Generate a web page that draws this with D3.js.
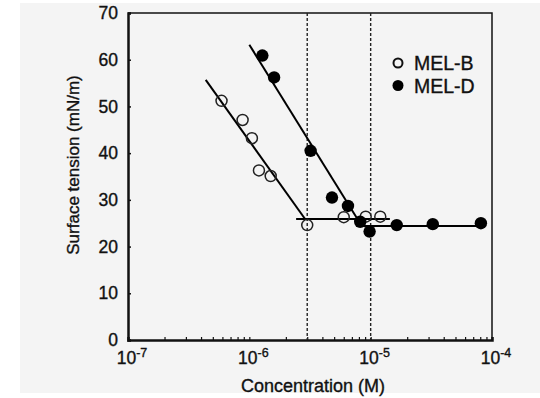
<!DOCTYPE html>
<html>
<head>
<meta charset="utf-8">
<script src="https://cdn.jsdelivr.net/npm/d3@7"></script>
<style>
  body { margin: 0; background: #fff; }
  svg { display: block; font-family: "Liberation Sans", Arial, sans-serif; }
  text { stroke: #111; stroke-width: 0.35px; }
</style>
</head>
<body>
<svg id="graph1"></svg>
<script>
// MEL-B (open circles)
var melBConc = [5.9e-7, 8.8e-7, 1.05e-6, 1.2e-6, 1.5e-6, 3.0e-6, 6.0e-6, 9.1e-6, 1.2e-5]
var melBST = [51.2, 47.1, 43.2, 36.3, 35.1, 24.6, 26.3, 26.4, 26.4]
// MEL-D (filled circles)
var melDConc = [1.28e-6, 1.6e-6, 3.2e-6, 4.8e-6, 6.5e-6, 8.2e-6, 9.8e-6, 1.64e-5, 3.25e-5, 8.1e-5]
var melDST = [60.9, 56.2, 40.5, 30.5, 28.7, 25.3, 23.2, 24.6, 24.8, 25.0]
// fitted lines [conc, tension]
var melBSlope = [[4.37e-7, 55.7], [2.9e-6, 25.8]]
var melBFlat = [[2.43e-6, 25.9], [1.44e-5, 25.9]]
var melDSlope = [[1.0e-6, 63.2], [8.45e-6, 24.4]]
var melDFlat = [[8.3e-6, 24.4], [8.2e-5, 24.4]]
// CMC markers
var cmcLines = [3e-6, 1e-5]
var yTicks = [0, 10, 20, 30, 40, 50, 60, 70]
var xDecades = [-7, -6, -5, -4]
var seriesNames = ["MEL-B", "MEL-D"]

var screen = {width: 540, height: 398}
var margins = {top: 13, bottom: 58, left: 128, right: 48}

var svg = d3.select("#graph1")
    .attr("width", screen.width)
    .attr("height", screen.height)

svg.append("rect")
    .attr("x", 20).attr("y", 3)
    .attr("width", 520).attr("height", 390)
    .attr("fill", "#f4f4f4")

var xScale = d3.scaleLog()
    .domain([1e-7, 1e-4])
    .range([margins.left, screen.width - margins.right])

var yScale = d3.scaleLinear()
    .domain([0, 70])
    .range([screen.height - margins.bottom, margins.top])

// frame top/right
svg.append("path")
    .attr("d", "M" + xScale(1e-7) + "," + yScale(70) + "H" + xScale(1e-4) + "V" + yScale(0))
    .attr("fill", "none")
    .attr("stroke", "#111")
    .attr("stroke-width", 1.5)

// minor ticks on x
var minor = []
for (var e = -7; e < -4; e++) {
    for (var k = 1; k <= 9; k++) minor.push(k * Math.pow(10, e))
}
minor.push(1e-4)

var xAxis = d3.axisBottom(xScale)
    .tickValues(minor)
    .tickSize(-3)
    .tickFormat("")

svg.append("g")
    .attr("transform", "translate(0," + yScale(0) + ")")
    .call(xAxis)
    .call(function(g) {
        g.select(".domain").attr("stroke", "#111").attr("stroke-width", 2.5)
        g.selectAll(".tick line").attr("stroke", "#111").attr("stroke-width", 1.2)
    })

var yAxis = d3.axisLeft(yScale)
    .tickValues(yTicks)
    .tickSize(-3)
    .tickPadding(10)

svg.append("g")
    .attr("transform", "translate(" + xScale(1e-7) + ",0)")
    .call(yAxis)
    .call(function(g) {
        g.select(".domain").attr("stroke", "#111").attr("stroke-width", 2.5)
        g.selectAll(".tick line").attr("stroke", "#111").attr("stroke-width", 1.5)
        g.selectAll(".tick text")
            .attr("font-size", 17.5)
            .attr("font-family", "Liberation Sans, Arial, sans-serif")
            .attr("fill", "#111")
    })

// x labels 10^n
var xl = svg.append("g").selectAll("text")
    .data(xDecades)
    .enter()
    .append("text")
    .attr("x", function(d) { return xScale(Math.pow(10, d)) + 4 })
    .attr("y", 364)
    .attr("text-anchor", "middle")
    .attr("font-size", 17.5)
    .attr("fill", "#111")
xl.append("tspan").text("10")
xl.append("tspan")
    .attr("dy", -7)
    .attr("font-size", 12.5)
    .text(function(d) { return d })

svg.append("text")
    .attr("x", 313)
    .attr("y", 392)
    .attr("text-anchor", "middle")
    .attr("font-size", 18)
    .attr("fill", "#111")
    .text("Concentration (M)")

svg.append("text")
    .attr("transform", "translate(79,165) rotate(-90)")
    .attr("text-anchor", "middle")
    .attr("font-size", 17)
    .attr("fill", "#111")
    .text("Surface tension (mN/m)")

// CMC dashed lines
svg.selectAll(".cmc")
    .data(cmcLines)
    .enter()
    .append("line")
    .attr("x1", function(d) { return xScale(d) })
    .attr("x2", function(d) { return xScale(d) })
    .attr("y1", yScale(70))
    .attr("y2", yScale(0))
    .attr("stroke", "#222")
    .attr("stroke-width", 1.4)
    .attr("stroke-dasharray", "3,2")

var line = d3.line()
    .x(function(d) { return xScale(d[0]) })
    .y(function(d) { return yScale(d[1]) })

svg.selectAll(".fit")
    .data([melBSlope, melBFlat, melDSlope, melDFlat])
    .enter()
    .append("path")
    .attr("d", line)
    .attr("fill", "none")
    .attr("stroke", "#000")
    .attr("stroke-width", 2)

svg.append("g").selectAll("circle")
    .data(melBConc)
    .enter()
    .append("circle")
    .attr("cx", function(d) { return xScale(d) })
    .attr("cy", function(d, i) { return yScale(melBST[i]) })
    .attr("r", 5.5)
    .attr("fill", "none")
    .attr("stroke", "#222")
    .attr("stroke-width", 1.5)

svg.append("g").selectAll("circle")
    .data(melDConc)
    .enter()
    .append("circle")
    .attr("cx", function(d) { return xScale(d) })
    .attr("cy", function(d, i) { return yScale(melDST[i]) })
    .attr("r", 6.2)
    .attr("fill", "#000")

// legend
var leg = svg.append("g")
leg.selectAll("circle")
    .data(seriesNames)
    .enter()
    .append("circle")
    .attr("cx", 398)
    .attr("cy", function(d, i) { return 63 + i * 22.5 })
    .attr("r", function(d, i) { return i == 0 ? 4.5 : 5.5 })
    .attr("fill", function(d, i) { return i == 0 ? "none" : "#000" })
    .attr("stroke", "#111")
    .attr("stroke-width", function(d, i) { return i == 0 ? 2 : 0 })
leg.selectAll("text")
    .data(seriesNames)
    .enter()
    .append("text")
    .attr("x", 414)
    .attr("y", function(d, i) { return 63 + i * 22.5 })
    .attr("dy", "0.36em")
    .attr("font-size", 19.5)
    .attr("fill", "#111")
    .text(function(d) { return d })
</script>
</body>
</html>
